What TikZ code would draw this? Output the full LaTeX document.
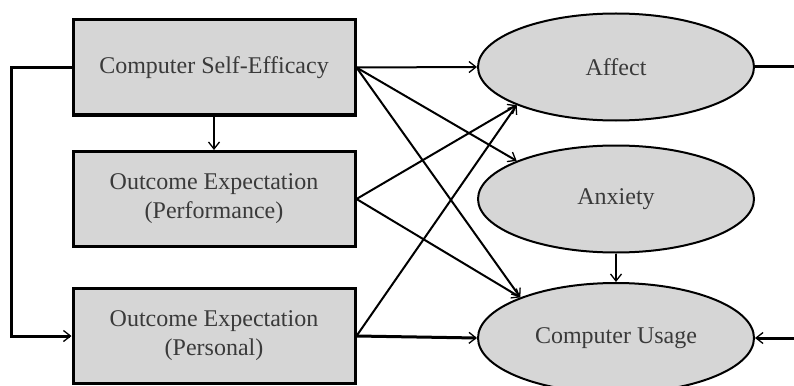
\documentclass[tikz,border=0pt]{standalone}
\usepackage{fontspec}
\setmainfont{Liberation Serif}
\usetikzlibrary{arrows.meta,shapes.geometric}
\definecolor{boxfill}{HTML}{D6D6D6}
\definecolor{txt}{HTML}{3A3A3A}
\begin{document}
\begin{tikzpicture}[x=1pt,y=-1pt,
  font=\fontsize{24}{29}\selectfont,
  boxnode/.style={draw=black,line width=3pt,fill=boxfill,text=txt,rectangle,
    minimum width=282pt,minimum height=95pt,align=center,inner sep=0pt},
  ellnode/.style={draw=black,line width=2pt,fill=boxfill,text=txt,ellipse,
    minimum width=276pt,minimum height=107pt,inner sep=0pt},
  conn/.style={line width=2pt,-{Straight Barb[length=7pt,width=11pt,line width=1.3pt]}},
  thick conn/.style={conn,line width=3pt},
  plain/.style={line width=3pt}]
\useasboundingbox (0,0) rectangle (794,385);
\node[boxnode] (cse) at (214,67.5) {Computer Self-Efficacy};
\node[boxnode] (perf) at (214,199) {Outcome Expectation\\(Performance)};
\node[boxnode] (pers) at (214,336) {Outcome Expectation\\(Personal)};
\node[ellnode] (aff) at (616,67) {Affect};
\node[ellnode] (anx) at (616,199) {Anxiety};
\node[ellnode,minimum height=110pt] (use) at (616,338) {Computer Usage};
\coordinate (rtop) at (796,67);
\coordinate (rbot) at (796,338);
\draw[conn] (cse.east) -- (aff.west);
\draw[conn] (cse.east) -- (anx.159);
\draw[conn] (cse.east) -- (use.157);
\draw[conn] (perf.east) -- (aff.201);
\draw[conn] (perf.east) -- (use.157);
\draw[conn] (pers.east) -- (aff.201);
\draw[thick conn] (pers.east) -- (use.west);
\draw[conn] (cse.south) -- (perf.north);
\draw[conn] (anx.south) -- (use.north);
\draw[thick conn] (cse.west) -- ++(-60,0) |- (pers.west);
\draw[plain] (aff.east) -- (rtop);
\draw[thick conn] (rbot) -- (use.east);
\end{tikzpicture}
\end{document}
